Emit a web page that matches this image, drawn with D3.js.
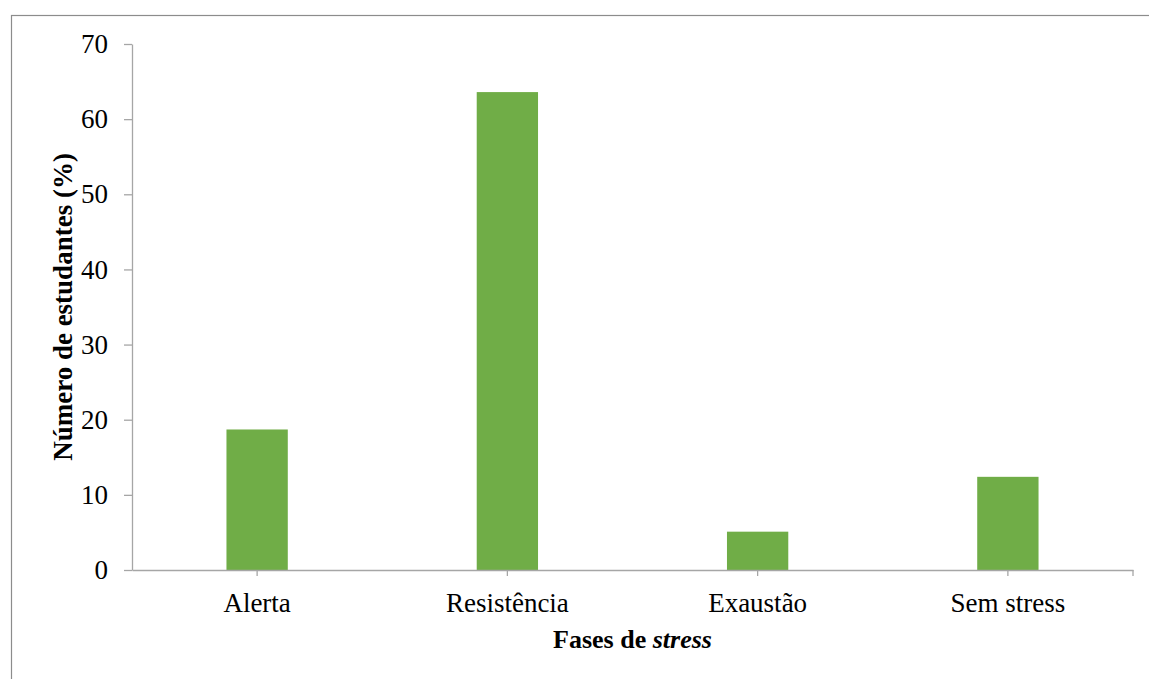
<!DOCTYPE html>
<html lang="pt">

<head>
    <meta charset="UTF-8">
    <title>Fases de stress</title>
    <script src="https://d3js.org/d3.v7.min.js"></script>
    <style>
        body {
            margin: 0;
            background: #fff;
        }

        svg text {
            font-family: "Liberation Serif", "Times New Roman", serif;
            fill: #000;
        }
    </style>
</head>

<body>
    <svg id="myChart"></svg>
</body>
<script>
    const categories = ["Alerta", "Resistência", "Exaustão", "Sem stress"];
    const percentages = [18.7, 63.6, 5.1, 12.4];
    const yTicks = [0, 10, 20, 30, 40, 50, 60, 70];

    function createChart() {
        const W = 1149, H = 679;
        const margin = { top: 44, right: 16, bottom: 109, left: 132 };

        const svg = d3.select("#myChart")
            .attr("width", W)
            .attr("height", H);

        // chart frame
        svg.append("rect")
            .attr("x", 11.5)
            .attr("y", 15.5)
            .attr("width", W)
            .attr("height", H)
            .attr("fill", "none")
            .attr("stroke", "#8c8c8c")
            .attr("stroke-width", 1.2);

        const x = d3.scaleBand()
            .domain(categories)
            .range([margin.left, W - margin.right]);

        const y = d3.scaleLinear()
            .domain([0, 70])
            .range([H - margin.bottom, margin.top]);

        const barW = x.bandwidth() * 0.245;

        // Bars
        svg.selectAll(".bar")
            .data(percentages)
            .enter().append("rect")
            .attr("class", "bar")
            .attr("x", (d, i) => x(categories[i]) + (x.bandwidth() - barW) / 2)
            .attr("y", d => y(d))
            .attr("width", barW)
            .attr("height", d => y(0) - y(d))
            .attr("fill", "#70ad47");

        // Y-axis
        const yAxis = svg.append("g")
            .attr("transform", "translate(" + margin.left + ",0)")
            .call(d3.axisLeft(y).tickValues(yTicks).tickSize(8).tickPadding(16).tickSizeOuter(0));
        yAxis.selectAll("line, path").attr("stroke", "#a6a6a6").attr("stroke-width", 1.3);
        yAxis.selectAll("text").style("font-size", "27px").attr("font-family", null);

        // X-axis
        const xAxis = svg.append("g")
            .attr("transform", "translate(0," + y(0) + ")")
            .call(d3.axisBottom(x).tickSize(6).tickPadding(17).tickSizeOuter(0));
        xAxis.selectAll("line, path").attr("stroke", "#a6a6a6").attr("stroke-width", 1.3);
        xAxis.selectAll("text").style("font-size", "27px").attr("font-family", null);
        // end tick
        xAxis.append("line")
            .attr("x1", x.range()[1]).attr("x2", x.range()[1])
            .attr("y1", 0).attr("y2", 6)
            .attr("stroke", "#a6a6a6").attr("stroke-width", 1.3);

        // X-axis title
        const xt = svg.append("text")
            .attr("x", (margin.left + W - margin.right) / 2)
            .attr("y", 648)
            .style("text-anchor", "middle")
            .style("font-size", "26px")
            .style("font-weight", "bold");
        xt.append("tspan").text("Fases de ");
        xt.append("tspan").style("font-style", "italic").text("stress");

        // Y-axis title
        svg.append("text")
            .attr("transform", "translate(72," + (y(0) + y(70)) / 2 + ") rotate(-90)")
            .style("text-anchor", "middle")
            .style("font-size", "27px")
            .style("font-weight", "bold")
            .text("Número de estudantes (%)");
    }

    createChart();
</script>

</html>
